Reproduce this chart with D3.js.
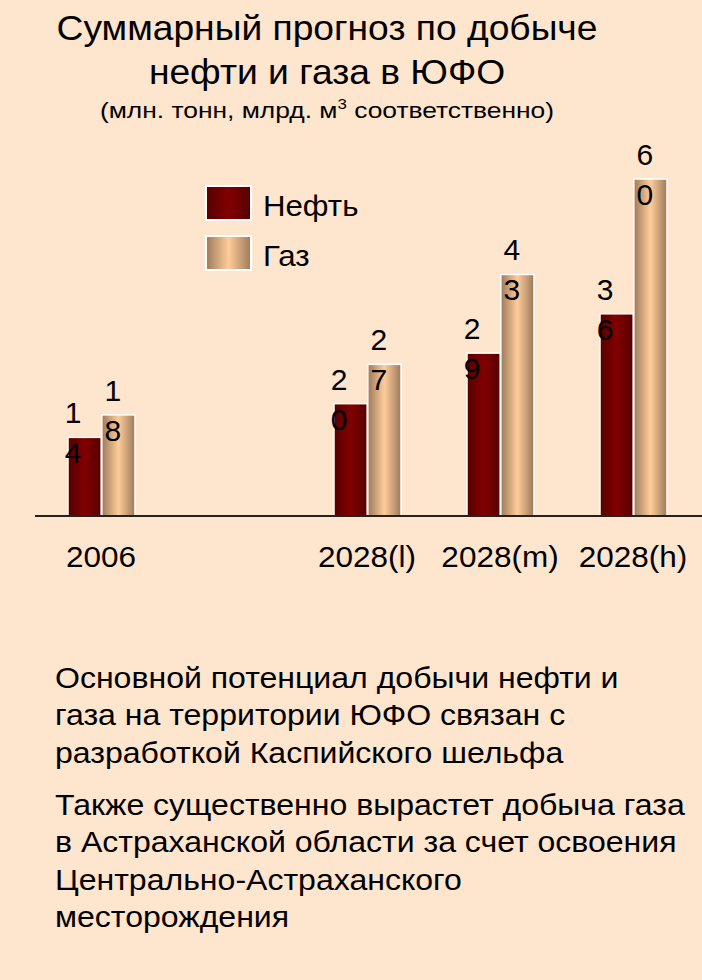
<!DOCTYPE html>
<html>
<head>
  <meta charset="utf-8">
  <title>Суммарный прогноз по добыче нефти и газа в ЮФО</title>
  <script src="https://d3js.org/d3.v7.min.js"></script>
  <style>
    body { margin: 0; background: #fee5cd; }
    svg { display: block; font-family: "Liberation Sans", Arial, sans-serif; }
  </style>
</head>
<body>
  <svg id="chart"></svg>

  <script>
    // Data
    let categories = ["2006", "2028(l)", "2028(m)", "2028(h)"];
    let slots = ["2006", "gap", "2028(l)", "2028(m)", "2028(h)"]; // empty slot after 2006
    let series = ["Нефть", "Газ"];
    let oilValues = [14, 20, 29, 36];
    let gasValues = [18, 27, 43, 60];

    let titleLines = ["Суммарный прогноз по добыче", "нефти и газа в ЮФО"];
    let paragraph1 = ["Основной потенциал добычи нефти и",
                      "газа на территории ЮФО связан с",
                      "разработкой Каспийского шельфа"];
    let paragraph2 = ["Также существенно вырастет добыча газа",
                      "в Астраханской области за счет освоения",
                      "Центрально-Астраханского",
                      "месторождения"];

    let width = 702, height = 980;
    let baseY = 516;

    let svg = d3.select("#chart")
                .attr("width", width)
                .attr("height", height);

    svg.append("rect")
       .attr("width", width).attr("height", height)
       .attr("fill", "#fee5cd");

    // Gradients for the cylinder look
    let defs = svg.append("defs");
    function addGradient(id, edge, mid) {
      let g = defs.append("linearGradient")
                  .attr("id", id)
                  .attr("x1", "0%").attr("y1", "0%")
                  .attr("x2", "100%").attr("y2", "0%");
      g.append("stop").attr("offset", "0%").attr("stop-color", edge);
      g.append("stop").attr("offset", "50%").attr("stop-color", mid);
      g.append("stop").attr("offset", "100%").attr("stop-color", edge);
    }
    addGradient("grad-oil", "#560000", "#820000");
    addGradient("grad-gas", "#9c7a5a", "#ffcc99");
    let fills = ["url(#grad-oil)", "url(#grad-gas)"];

    // Title (the slide text is a bit wider than the font, so stretch it)
    let titleG = svg.append("g")
       .attr("transform", "translate(327,0) scale(1.063,1)");
    titleG.selectAll(".title")
       .data(titleLines)
       .enter()
       .append("text")
       .attr("class", "title")
       .attr("x", 0)
       .attr("y", function(d, i) { return 40 + i * 44; })
       .attr("text-anchor", "middle")
       .style("font-size", "35px")
       .text(function(d) { return d; });

    let sub = svg.append("g")
       .attr("transform", "translate(327,0) scale(1.2,1)")
       .append("text")
       .attr("x", 0)
       .attr("y", 118)
       .attr("text-anchor", "middle")
       .style("font-size", "22px");
    sub.append("tspan").text("(млн. тонн, млрд. м");
    sub.append("tspan").attr("dy", -9).style("font-size", "14px").text("3");
    sub.append("tspan").attr("dy", 9).text(" соответственно)");

    // Scales
    let x = d3.scaleBand()
              .domain(slots)
              .range([34.5, 699.5])
              .padding(0);

    let xInner = d3.scaleBand()
                   .domain(series)
                   .range([-33, 34])
                   .paddingInner(0.02);

    let y = d3.scaleLinear()
              .domain([0, 60])
              .range([baseY, 179]);

    let rows = [];
    categories.forEach(function(c, i) {
      rows.push({cat: c, s: 0, value: oilValues[i]});
      rows.push({cat: c, s: 1, value: gasValues[i]});
    });

    // Bars
    svg.selectAll(".bar")
       .data(rows)
       .enter()
       .append("rect")
       .attr("class", "bar")
       .attr("x", function(d) { return x(d.cat) + x.bandwidth() / 2 + xInner(series[d.s]); })
       .attr("width", xInner.bandwidth())
       .attr("y", function(d) { return y(d.value); })
       .attr("height", function(d) { return baseY - y(d.value); })
       .attr("fill", function(d) { return fills[d.s]; })
       .attr("stroke", "#ffffff")
       .attr("stroke-width", 1.5);

    // Value labels, each digit on its own line as in the source
    let labelShift = [5, 11];
    let labels = svg.selectAll(".vlabel")
       .data(rows)
       .enter()
       .append("text")
       .attr("class", "vlabel")
       .attr("text-anchor", "middle")
       .style("font-size", "30px");

    labels.each(function(d) {
      let digits = String(d.value).split("");
      let cx = x(d.cat) + x.bandwidth() / 2 + xInner(series[d.s]) + labelShift[d.s];
      let t = d3.select(this);
      digits.forEach(function(ch, k) {
        t.append("tspan")
         .attr("x", cx)
         .attr("y", y(d.value) - 14 + k * 40)
         .text(ch);
      });
    });

    // X axis
    let axis = svg.append("g")
       .attr("transform", "translate(0," + baseY + ")")
       .call(d3.axisBottom(x).tickSize(0).tickPadding(30)
               .tickFormat(function(d) { return d === "gap" ? "" : d; }));
    axis.select(".domain")
        .attr("d", "M35,0H702")
        .attr("stroke", "#222")
        .attr("stroke-width", 2);
    axis.selectAll("text")
        .style("font-family", "Liberation Sans, Arial, sans-serif")
        .style("font-size", "30px")
        .attr("transform", "scale(1.05,1)")
        .attr("fill", "#000");

    // Legend
    let legend = svg.selectAll(".legend")
       .data(series)
       .enter()
       .append("g")
       .attr("class", "legend")
       .attr("transform", function(d, i) { return "translate(206," + (186 + i * 50) + ")"; });

    legend.append("rect")
          .attr("width", 45)
          .attr("height", 34)
          .attr("fill", function(d, i) { return fills[i]; })
          .attr("stroke", "#ffffff")
          .attr("stroke-width", 2);

    legend.append("text")
          .attr("transform", "translate(57,30) scale(1.04,1)")
          .style("font-size", "30px")
          .text(function(d) { return d; });

    // Notes under the chart
    function addParagraph(lines, y0) {
      svg.append("g")
         .attr("transform", "translate(55,0) scale(1.105,1)")
         .selectAll("text")
         .data(lines)
         .enter()
         .append("text")
         .attr("x", 0)
         .attr("y", function(d, i) { return y0 + i * 37.5; })
         .style("font-size", "29px")
         .text(function(d) { return d; });
    }
    addParagraph(paragraph1, 688);
    addParagraph(paragraph2, 815);
  </script>
</body>
</html>
